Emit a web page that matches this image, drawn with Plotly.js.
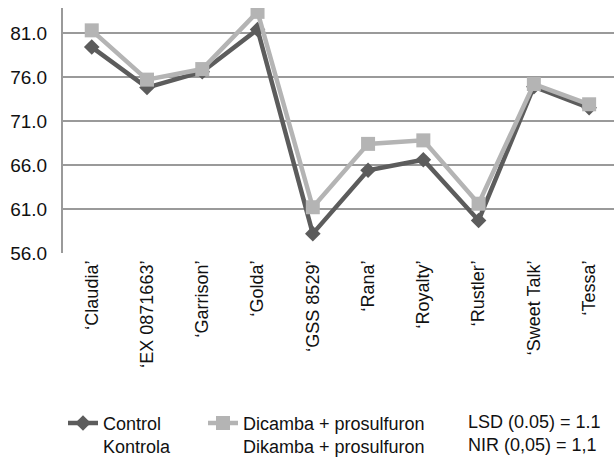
<!DOCTYPE html>
<html><head><meta charset="utf-8">
<script src="https://cdn.plot.ly/plotly-3.0.1.min.js"></script>
<style>html,body{margin:0;padding:0;background:#fff}</style>
</head><body>
<div id="chart" style="width:614px;height:459px"></div>
<script>
var categories = ["\u2018Claudia\u2019","\u2018EX 0871663\u2019","\u2018Garrison\u2019","\u2018Golda\u2019","\u2018GSS 8529\u2019","\u2018Rana\u2019","\u2018Royalty\u2019","\u2018Rustler\u2019","\u2018Sweet Talk\u2019","\u2018Tessa\u2019"];
var control = [79.4, 74.8, 76.6, 81.4, 58.2, 65.4, 66.6, 59.7, 74.9, 72.5];
var dicamba = [81.3, 75.7, 76.9, 83.4, 61.2, 68.4, 68.8, 61.6, 75.2, 72.9];
var tickVals = [56, 61, 66, 71, 76, 81];
var tickText = ["56.0","61.0","66.0","71.0","76.0","81.0"];
var seriesNames = ["Control<br>Kontrola", "Dicamba + prosulfuron<br>Dikamba + prosulfuron"];
var noteText = "LSD (0.05) = 1.1<br>NIR (0,05) = 1,1";

var font = "'Liberation Sans', Arial, sans-serif";
var traces = [
  {x: categories, y: control, name: seriesNames[0], type: "scatter", mode: "lines+markers", legendwidth: 95,
   line: {color: "#5c5c5c", width: 4.5}, marker: {symbol: "diamond", size: 12, color: "#5c5c5c"}},
  {x: categories, y: dicamba, name: seriesNames[1], type: "scatter", mode: "lines+markers",
   line: {color: "#b4b4b4", width: 4.5}, marker: {symbol: "square", size: 14, color: "#b4b4b4"}}
];
var layout = {
  width: 614, height: 459,
  margin: {l: 63, r: 0, t: 8, b: 206},
  paper_bgcolor: "#fff", plot_bgcolor: "#fff",
  font: {family: font, size: 19, color: "#111"},
  showlegend: true,
  legend: {orientation: "h", x: 0.0, xanchor: "left", yref: "container", y: 0.118, yanchor: "top",
           valign: "top", font: {family: font, size: 18, color: "#111"}, traceorder: "normal"},
  xaxis: {type: "category", tickangle: -90, showgrid: false, showline: false, zeroline: false,
          ticks: "", ticklabelstandoff: 3, tickfont: {family: font, size: 18, color: "#111"},
          range: [-0.52, 9.45], automargin: false},
  yaxis: {range: [56, 83.84], tickvals: tickVals, ticktext: tickText, showgrid: true,
          gridcolor: "#9a9a9a", gridwidth: 2, showline: true, linecolor: "#9a9a9a", linewidth: 2,
          zeroline: false, ticks: "", ticklabelstandoff: 10,
          tickfont: {family: font, size: 19, color: "#111"}, automargin: false},
  annotations: [{xref: "paper", yref: "paper", x: 0.731, y: -0.64, xanchor: "left", yanchor: "top",
                 text: noteText, showarrow: false, align: "left", font: {family: font, size: 18, color: "#111"}}]
};
Plotly.newPlot("chart", traces, layout, {displayModeBar: false, staticPlot: true});
</script>
</body></html>
